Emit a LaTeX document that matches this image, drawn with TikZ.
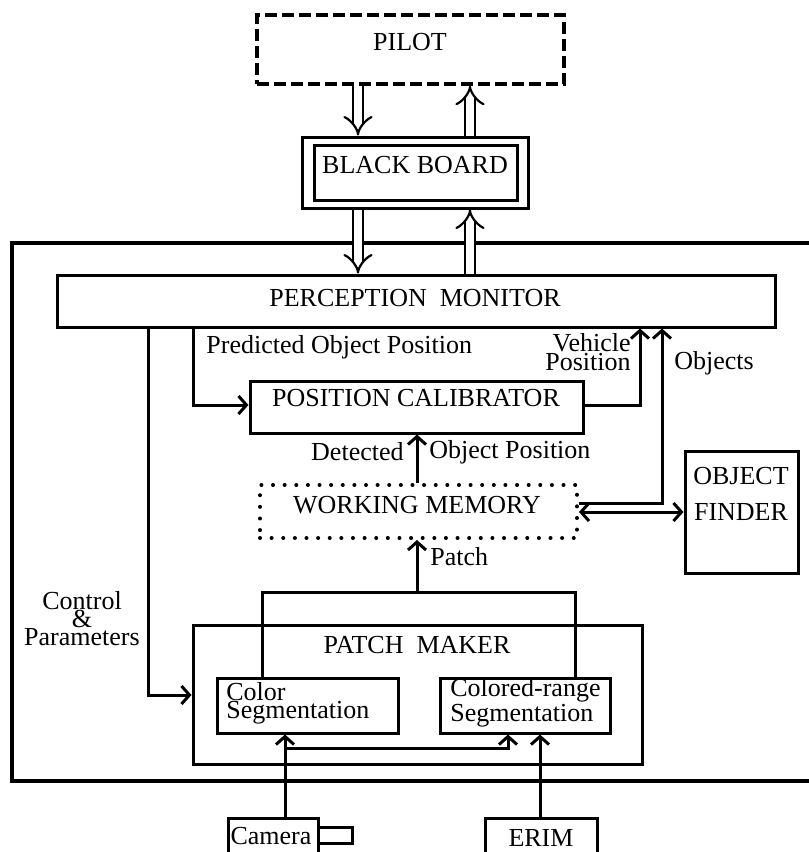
\documentclass[tikz,border=0pt]{standalone}
\usepackage{fontspec}
\setmainfont{Liberation Serif}
\usetikzlibrary{arrows.meta,fit,calc}
\begin{document}
\begin{tikzpicture}[x=0.5pt,y=-0.5pt,
  box/.style={draw, line width=1.5pt, inner sep=0pt},
  lbl/.style={font=\fontsize{13}{15}\selectfont, inner sep=0pt},
  ln/.style={line width=1.5pt},
  barb/.tip={Straight Barb[length=4pt,width=9pt,line width=1.5pt]},
  arr/.style={line width=1.5pt, -barb},
  arrboth/.style={line width=1.5pt, barb-barb},
  dbl/.style={double, line width=1.1pt, double distance=4pt, -{Implies}},
  dashbox/.style={box, line width=1.7pt, dash pattern=on 6pt off 2.5pt},
  dotbox/.style={box, line width=2pt, line cap=round, dash pattern=on 0.01pt off 5.8pt},
]
\useasboundingbox (0,0) rectangle (809,852);
\clip (0,0) rectangle (809,852);

% helper coordinates
\coordinate (xa) at (358,0);
\coordinate (xb) at (470,0);
\coordinate (xctl) at (148,0);
\coordinate (yctl) at (0,695);
\coordinate (xpred) at (193,0);
\coordinate (ypred) at (0,405);
\coordinate (xveh) at (640,0);
\coordinate (xobj) at (662,0);
\coordinate (yobj) at (0,503);
\coordinate (ywo) at (0,512);
\coordinate (xdet) at (417,0);
\coordinate (xbusl) at (262,0);
\coordinate (xbusr) at (575,0);
\coordinate (ybus) at (0,592);
\coordinate (xcam) at (285,0);
\coordinate (ycam) at (0,748);
\coordinate (xbr) at (508,0);
\coordinate (xerim) at (540,0);

% boxes
\node[dashbox, fit={(257,15) (564,84)}] (pilot) {};
\node[lbl] (pilott) at (410,42) {PILOT};
\node[box, fit={(302,137) (528,208)}] (bbo) {};
\node[box, fit={(314,145) (517,200)}] (bb) {};
\node[lbl] (bbt) at (415,165) {BLACK BOARD};

\draw[line width=2.4pt] (815,243) -| (12,781) -- (815,781);

\node[box, fit={(57,275) (775,327)}] (pm) {};
\node[lbl] (pmt) at (415,298) {PERCEPTION\ \ MONITOR};
\node[box, fit={(250,381) (583,433)}] (pc) {};
\node[lbl] (pct) at (416,398) {POSITION CALIBRATOR};
\node[dotbox, fit={(260,485) (577,538)}] (wm) {};
\node[lbl] (wmt) at (417,505) {WORKING MEMORY};
\node[box, fit={(685,451) (798,573)}] (of) {};
\node[lbl, align=center, font=\fontsize{13}{18}\selectfont] (oft) at (741,494) {OBJECT\\FINDER};
\node[box, fit={(193,625) (642,764)}] (pmk) {};
\node[lbl] (pmkt) at (417,645) {PATCH\ \ MAKER};
\node[box, fit={(217,678) (398,733)}] (cs) {};
\node[lbl, align=left, anchor=west, font=\fontsize{13}{9}\selectfont] (cst) at (226,703) {Color\\Segmentation};
\node[box, fit={(440,678) (610,733)}] (crs) {};
\node[lbl, align=left, anchor=west, font=\fontsize{13}{9}\selectfont] (crst) at (450,703) {Colored-range\\Segmentation};
\node[box, fit={(228,818) (318,870)}] (cam) {};
\draw[ln] (cam.east |- 0,827) -| (352,843) -- (cam.east |- 0,843);
\node[lbl] (camt) at (271,836) {Camera};
\node[box, fit={(485,818) (597,870)}] (erim) {};
\node[lbl] (erimt) at (541,838) {ERIM};

% double arrows
\draw[dbl] (pilot.south -| xa) -- (bbo.north -| xa);
\draw[dbl] (bbo.north -| xb) -- (pilot.south -| xb);
\draw[dbl] (bbo.south -| xa) -- (pm.north -| xa);
\draw[dbl] (pm.north -| xb) -- (bbo.south -| xb);

% connectors
\draw[arr] (pm.south -| xctl) |- (pmk.west |- yctl);
\draw[arr] (pm.south -| xpred) |- (pc.west |- ypred);
\draw[arr] (pc.east |- ypred) -| (pm.south -| xveh);
\draw[arr] (wm.east |- yobj) -| (pm.south -| xobj);
\draw[arrboth] (wm.east |- ywo) -- (of.west |- ywo);
\draw[arr] (wm.north -| xdet) -- (pc.south -| xdet);
\draw[arr] (xdet |- ybus) -- (wm.south -| xdet);
\draw[ln] (cs.north -| xbusl) -- (xbusl |- ybus) -- (xbusr |- ybus) -- (crs.north -| xbusr);
\draw[arr] (cam.north -| xcam) -- (cs.south -| xcam);
\draw[arr] (xcam |- ycam) -| (crs.south -| xbr);
\draw[arr] (erim.north -| xerim) -- (crs.south -| xerim);

% labels
\node[lbl, anchor=west] (lpred) at (206,347) {Predicted Object Position};
\node[lbl, align=right, anchor=east, font=\fontsize{13}{8}\selectfont] (lveh) at (631,352) {Vehicle\\Position};
\node[lbl] (lobj) at (714,363) {Objects};
\node[lbl, anchor=east] (ldet) at (404,452) {Detected};
\node[lbl, anchor=west] (lop) at (429,452) {Object Position};
\node[lbl, anchor=west] (lpatch) at (430,557) {Patch};
\node[lbl, align=center, font=\fontsize{13}{9}\selectfont] (lctl) at (82,619) {Control\\\&\\Parameters};
\end{tikzpicture}
\end{document}
